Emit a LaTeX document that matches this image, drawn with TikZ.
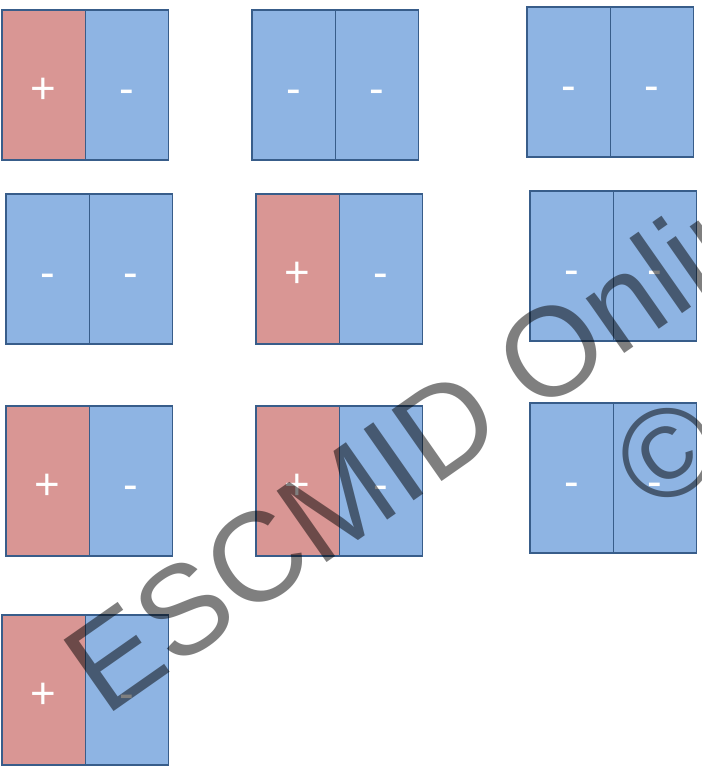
\documentclass[tikz,border=0pt]{standalone}
\usepackage{fontspec}
\setmainfont{Liberation Sans}
\usepackage{tikz}
\usetikzlibrary{positioning}
\usepackage{xcolor}
\definecolor{plusRed}{RGB}{217, 150, 148}
\definecolor{minusBlue}{RGB}{142, 180, 227}
\definecolor{edgeBlue}{RGB}{56, 93, 138}

\tikzset{
  half/.style={draw=edgeBlue, line width=0.7pt, minimum width=1.666cm, minimum height=3cm,
    inner sep=0pt, outer sep=0pt, text=white, font=\fontsize{25}{30}\selectfont,
    text height=21.6pt, text depth=0pt},
  plusCell/.style={half, fill=plusRed},
  minusCell/.style={half, fill=minusBlue},
  watermark/.style={inner sep=0pt, rotate=35, text=black, text opacity=0.5,
    font=\fontsize{72}{86}\selectfont}
}

\begin{document}
\begin{tikzpicture}[x=0.02cm, y=-0.02cm]
  \clip (0,0) rectangle (702,772);
  % pairs of cells: left half placed at its corner, right half next to it
  \foreach \n/\x/\y/\s/\t in {1/2/10/plusCell/+, 2/252/10/minusCell/-, 3/527/7/minusCell/-,
                              4/6/194/minusCell/-, 5/256/194/plusCell/+, 6/530/191/minusCell/-,
                              7/6/406/plusCell/+, 8/256/406/plusCell/+, 9/530/403/minusCell/-,
                              10/2/615/plusCell/+} {
    \node[\s, anchor=north west] (L\n) at (\x,\y) {\t};
    \node[minusCell, right=0pt of L\n] (R\n) {-};
  }

  % watermark over the whole picture
  \node[watermark, anchor=base west] (wmText) at (104.8,717.7) {ESCMID Online};
  \node[watermark, anchor=base] (wmCopy) at (693,489) {\textcopyright};
\end{tikzpicture}
\end{document}
